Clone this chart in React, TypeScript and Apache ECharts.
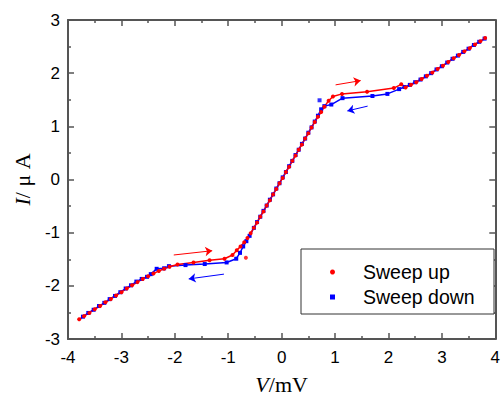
import React, { useEffect, useRef } from "react";
import * as echarts from "echarts";

// Sweep up (red): voltage (mV) and current (µA)
const upV = [-3.79, -3.70, -3.60, -3.50, -3.40, -3.30, -3.20, -3.10, -3.00, -2.90, -2.80, -2.70, -2.60, -2.50, -2.40, -2.30, -2.20, -2.10, -1.95, -1.65, -1.35, -1.07, -0.92, -0.84, -0.77, -0.70, -0.64, -0.58, -0.52, -0.46, -0.40, -0.34, -0.28, -0.22, -0.16, -0.10, -0.04, 0.02, 0.08, 0.14, 0.20, 0.26, 0.32, 0.38, 0.44, 0.50, 0.56, 0.62, 0.68, 0.74, 0.80, 0.88, 0.96, 1.13, 1.60, 2.10, 2.24, 2.32, 2.42, 2.52, 2.62, 2.72, 2.82, 2.92, 3.02, 3.12, 3.22, 3.32, 3.42, 3.52, 3.62, 3.72, 3.81];
const upI = [-2.63, -2.57, -2.51, -2.44, -2.38, -2.31, -2.25, -2.18, -2.12, -2.05, -1.99, -1.93, -1.87, -1.82, -1.77, -1.72, -1.68, -1.64, -1.60, -1.56, -1.52, -1.49, -1.42, -1.33, -1.26, -1.18, -1.10, -1.01, -0.91, -0.81, -0.70, -0.60, -0.49, -0.39, -0.28, -0.18, -0.07, 0.03, 0.14, 0.24, 0.35, 0.45, 0.56, 0.66, 0.77, 0.87, 0.98, 1.08, 1.18, 1.27, 1.37, 1.48, 1.56, 1.61, 1.65, 1.72, 1.79, 1.73, 1.78, 1.83, 1.89, 1.95, 2.01, 2.08, 2.14, 2.21, 2.28, 2.34, 2.41, 2.47, 2.54, 2.60, 2.66];
const upExtraV = [-0.67];
const upExtraI = [-1.47];

// Sweep down (blue)
const downV = [3.80, 3.70, 3.60, 3.50, 3.40, 3.30, 3.20, 3.10, 3.00, 2.90, 2.80, 2.70, 2.60, 2.50, 2.40, 2.30, 2.20, 1.98, 1.70, 1.14, 0.93, 0.80, 0.74, 0.68, 0.62, 0.56, 0.50, 0.44, 0.38, 0.32, 0.26, 0.20, 0.14, 0.08, 0.02, -0.04, -0.10, -0.16, -0.22, -0.28, -0.34, -0.40, -0.46, -0.52, -0.60, -0.66, -0.72, -0.78, -0.85, -1.03, -1.44, -1.80, -2.11, -2.20, -2.34, -2.45, -2.52, -2.62, -2.72, -2.82, -2.92, -3.02, -3.12, -3.22, -3.32, -3.42, -3.52, -3.62, -3.72];
const downI = [2.65, 2.59, 2.53, 2.46, 2.40, 2.33, 2.27, 2.20, 2.13, 2.07, 2.00, 1.94, 1.88, 1.83, 1.78, 1.74, 1.70, 1.61, 1.57, 1.53, 1.41, 1.38, 1.32, 1.20, 1.09, 0.98, 0.88, 0.77, 0.67, 0.56, 0.46, 0.35, 0.25, 0.14, 0.04, -0.07, -0.17, -0.28, -0.38, -0.49, -0.59, -0.70, -0.80, -0.91, -1.06, -1.16, -1.26, -1.38, -1.49, -1.56, -1.59, -1.61, -1.63, -1.67, -1.68, -1.78, -1.83, -1.87, -1.92, -1.99, -2.05, -2.12, -2.19, -2.25, -2.32, -2.38, -2.45, -2.51, -2.58];
const downExtraV = [0.71];
const downExtraI = [1.49];

// Sweep direction arrows: [x1, y1, x2, y2]
const upArrows = [[1.01, 1.78, 1.48, 1.86], [-2.02, -1.42, -1.30, -1.34]];
const downArrows = [[1.61, 1.38, 1.23, 1.29], [-1.08, -1.78, -1.74, -1.87]];

const xTicks = { min: -4, max: 4, interval: 1 };
const yTicks = { min: -3, max: 3, interval: 1 };

const RED = "#ff0000";
const BLUE = "#0000ff";
const AXIS = "#555555";

function pairs(xs: number[], ys: number[]) {
  return xs.map((x, i) => [x, ys[i]]);
}

function axisCommon(show: boolean) {
  return {
    axisLine: { show: true, onZero: false, lineStyle: { color: AXIS, width: 2 } },
    axisTick: { show: true, inside: true, length: 6, lineStyle: { color: AXIS, width: 1.5 } },
    minorTick: { show: true, splitNumber: 2, length: 3, lineStyle: { color: AXIS, width: 1.5 } },
    splitLine: { show: false },
    axisLabel: {
      show,
      color: "#000",
      fontFamily: "Liberation Sans, Arial",
      fontSize: 17,
    },
  };
}

const nameStyle = {
  fontFamily: "Liberation Serif, Times New Roman",
  fontSize: 22,
  color: "#000",
  rich: { it: { fontStyle: "italic", fontFamily: "Liberation Serif", fontSize: 22, color: "#000" } },
};

export default function App() {
  const ref = useRef<HTMLDivElement>(null);
  useEffect(() => {
    document.body.style.margin = "0";
    if (!ref.current) return;
    const chart = echarts.init(ref.current, null, { renderer: "svg" });
    const arrowSeries = (arr: number[][], color: string) => ({
      type: "lines",
      coordinateSystem: "cartesian2d",
      xAxisIndex: 0,
      yAxisIndex: 0,
      symbol: ["none", "arrow"],
      symbolSize: 7,
      lineStyle: { color, width: 1, opacity: 1 },
      silent: true,
      z: 3,
      data: arr.map((a) => ({ coords: [[a[0], a[1]], [a[2], a[3]]] })),
    });
    chart.setOption({
      animation: false,
      grid: { left: 68, right: 7, top: 20, bottom: 62 },
      xAxis: [
        {
          type: "value",
          ...xTicks,
          position: "bottom",
          ...axisCommon(true),
          axisLabel: { ...axisCommon(true).axisLabel, margin: 10 },
          name: "{it|V}/mV",
          nameLocation: "middle",
          nameGap: 34,
          nameTextStyle: nameStyle,
        },
        { type: "value", ...xTicks, position: "top", ...axisCommon(false) },
      ],
      yAxis: [
        {
          type: "value",
          ...yTicks,
          position: "left",
          ...axisCommon(true),
          axisLabel: { ...axisCommon(true).axisLabel, margin: 8 },
          name: "{it|I}/ μ A",
          nameLocation: "middle",
          nameGap: 34,
          nameTextStyle: nameStyle,
        },
        { type: "value", ...yTicks, position: "right", ...axisCommon(false) },
      ],
      legend: {
        orient: "vertical",
        left: 330,
        top: 261,
        padding: 0,
        itemGap: 3,
        itemWidth: 5,
        itemHeight: 5,
        textStyle: {
          fontFamily: "Liberation Sans, Arial",
          fontSize: 19.5,
          lineHeight: 22,
          color: "#000",
          padding: [0, 0, 0, 23],
        },
        data: [
          { name: "Sweep up", icon: "circle" },
          { name: "Sweep down", icon: "rect" },
        ],
      },
      graphic: [
        {
          type: "rect",
          z: 3,
          shape: { x: 301, y: 249, width: 193, height: 65 },
          style: { fill: "#fff", stroke: "#333", lineWidth: 1 },
        },
      ],
      series: [
        {
          name: "Sweep down",
          type: "line",
          data: pairs(downV, downI),
          symbol: "rect",
          symbolSize: 4,
          showAllSymbol: true,
          itemStyle: { color: BLUE },
          lineStyle: { color: BLUE, width: 1.5 },
          z: 2,
        },
        {
          name: "Sweep down",
          type: "scatter",
          data: pairs(downExtraV, downExtraI),
          symbol: "rect",
          symbolSize: 4,
          itemStyle: { color: BLUE },
          z: 2,
        },
        {
          name: "Sweep up",
          type: "line",
          data: pairs(upV, upI),
          symbol: "circle",
          symbolSize: 4,
          showAllSymbol: true,
          itemStyle: { color: RED },
          lineStyle: { color: RED, width: 1.5 },
          z: 2,
        },
        {
          name: "Sweep up",
          type: "scatter",
          data: pairs(upExtraV, upExtraI),
          symbol: "circle",
          symbolSize: 4,
          itemStyle: { color: RED },
          z: 2,
        },
        arrowSeries(upArrows, RED),
        arrowSeries(downArrows, BLUE),
      ],
    });
    return () => chart.dispose();
  }, []);
  return <div ref={ref} style={{ width: 503, height: 401 }} />;
}
